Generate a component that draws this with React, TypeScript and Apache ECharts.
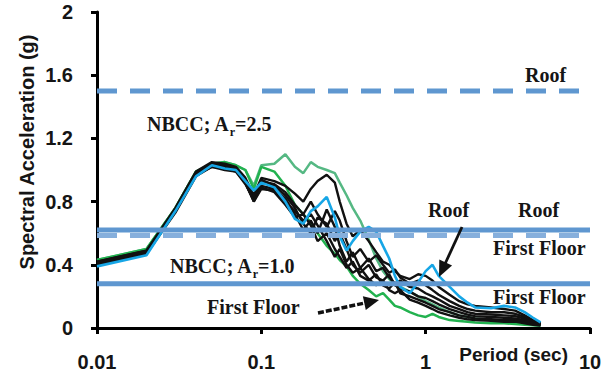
import React, { useEffect, useRef } from "react";
import * as echarts from "echarts";

// Periods (sec) shared by all spectra
const periods = [0.01, 0.02, 0.03, 0.04, 0.05, 0.06, 0.07, 0.08, 0.09, 0.1, 0.12, 0.14, 0.16, 0.18, 0.2, 0.22, 0.25, 0.28, 0.3, 0.33, 0.36, 0.4, 0.45, 0.5, 0.55, 0.6, 0.65, 0.7, 0.8, 0.9, 1.0, 1.1, 1.2, 1.4, 1.6, 1.8, 2.0, 2.5, 3.0, 3.5, 4.0, 4.5, 5.0];

const blueSpectrum = [0.39, 0.46, 0.74, 0.96, 1.03, 1.01, 1.0, 0.93, 0.87, 0.92, 0.89, 0.8, 0.69, 0.66, 0.74, 0.77, 0.83, 0.7, 0.58, 0.49, 0.55, 0.61, 0.64, 0.61, 0.52, 0.44, 0.33, 0.26, 0.22, 0.29, 0.36, 0.4, 0.33, 0.26, 0.2, 0.16, 0.13, 0.125, 0.14, 0.13, 0.1, 0.065, 0.035];

const black1 = [0.42, 0.49, 0.76, 0.99, 1.05, 1.04, 1.02, 0.95, 0.84, 0.95, 0.93, 0.9, 0.85, 0.8, 0.88, 0.93, 0.97, 0.92, 0.8, 0.66, 0.58, 0.62, 0.55, 0.48, 0.42, 0.4, 0.36, 0.33, 0.31, 0.34, 0.33, 0.3, 0.26, 0.21, 0.17, 0.15, 0.14, 0.13, 0.12, 0.11, 0.08, 0.05, 0.03];
const black2 = [0.41, 0.48, 0.75, 0.98, 1.04, 1.02, 1.01, 0.94, 0.82, 0.93, 0.91, 0.86, 0.78, 0.72, 0.8, 0.72, 0.64, 0.74, 0.68, 0.55, 0.45, 0.5, 0.42, 0.46, 0.4, 0.35, 0.37, 0.32, 0.28, 0.3, 0.27, 0.24, 0.21, 0.17, 0.14, 0.12, 0.11, 0.1, 0.1, 0.09, 0.07, 0.045, 0.03];
const black3 = [0.4, 0.47, 0.74, 0.97, 1.03, 1.01, 1.0, 0.92, 0.8, 0.9, 0.88, 0.82, 0.72, 0.62, 0.68, 0.6, 0.75, 0.64, 0.52, 0.42, 0.48, 0.38, 0.44, 0.36, 0.38, 0.32, 0.28, 0.3, 0.26, 0.25, 0.22, 0.2, 0.18, 0.14, 0.12, 0.1, 0.09, 0.085, 0.08, 0.075, 0.06, 0.04, 0.025];
const black4 = [0.42, 0.49, 0.75, 0.98, 1.04, 1.03, 1.01, 0.93, 0.83, 0.94, 0.9, 0.84, 0.76, 0.66, 0.6, 0.7, 0.66, 0.55, 0.6, 0.5, 0.4, 0.35, 0.4, 0.32, 0.3, 0.34, 0.27, 0.25, 0.23, 0.2, 0.19, 0.17, 0.15, 0.12, 0.1, 0.085, 0.075, 0.07, 0.065, 0.06, 0.05, 0.035, 0.02];
const black5 = [0.41, 0.48, 0.74, 0.97, 1.02, 1.01, 0.99, 0.91, 0.81, 0.89, 0.86, 0.78, 0.7, 0.72, 0.65, 0.55, 0.6, 0.5, 0.45, 0.38, 0.42, 0.33, 0.3, 0.34, 0.27, 0.25, 0.29, 0.22, 0.2, 0.18, 0.16, 0.14, 0.12, 0.1, 0.08, 0.07, 0.06, 0.055, 0.05, 0.05, 0.04, 0.03, 0.02];
const black6 = [0.4, 0.47, 0.73, 0.96, 1.02, 1.0, 0.99, 0.92, 0.8, 0.88, 0.87, 0.8, 0.74, 0.68, 0.72, 0.65, 0.55, 0.45, 0.5, 0.4, 0.35, 0.38, 0.31, 0.27, 0.3, 0.24, 0.22, 0.24, 0.18, 0.16, 0.14, 0.12, 0.1, 0.08, 0.065, 0.055, 0.05, 0.045, 0.04, 0.04, 0.03, 0.02, 0.015];

const greenRoof = [0.43, 0.5, 0.76, 0.99, 1.04, 1.05, 1.03, 1.0, 0.9, 1.03, 1.04, 1.1, 1.02, 0.98, 1.05, 1.02, 1.0, 0.98, 0.92, 0.84, 0.76, 0.68, 0.56, 0.44, 0.36, 0.31, 0.28, 0.26, 0.23, 0.2, 0.17, 0.15, 0.13, 0.1, 0.08, 0.07, 0.06, 0.05, 0.045, 0.04, 0.03, 0.025, 0.02];
const greenFloor = [0.43, 0.5, 0.76, 0.99, 1.04, 1.05, 1.03, 1.0, 0.88, 1.02, 0.99, 0.9, 0.78, 0.72, 0.67, 0.6, 0.52, 0.47, 0.43, 0.39, 0.33, 0.28, 0.24, 0.2, 0.22, 0.18, 0.14, 0.13, 0.1, 0.08, 0.07, 0.09, 0.07, 0.05, 0.045, 0.04, 0.035, 0.03, 0.03, 0.025, 0.02, 0.018, 0.015];

// NBCC design levels (g)
const nbccRoof25 = 1.5;
const nbccFloor25 = 0.585;
const nbccRoof10 = 0.62;
const nbccFloor10 = 0.28;

const xRange = [0.01, 10];
const xTickLabels = ["0.01", "0.1", "1", "10"];
const yTickLabels = ["0", "0.4", "0.8", "1.2", "1.6", "2"];

const SANS = '"Liberation Sans", Arial, sans-serif';
const SERIF = '"Liberation Serif", "Times New Roman", serif';
const TXT = "#151515";

function arrow(x1: number, y1: number, x2: number, y2: number, headLen: number, headHalf: number, dash: number[] | null, width: number) {
  const dx = x2 - x1;
  const dy = y2 - y1;
  const L = Math.hypot(dx, dy);
  const ux = dx / L;
  const uy = dy / L;
  const bx = x2 - ux * headLen;
  const by = y2 - uy * headLen;
  const nx = -uy;
  const ny = ux;
  const lineStyle: any = { stroke: "#111", lineWidth: width };
  if (dash) lineStyle.lineDash = dash;
  return [
    {
      type: "line",
      shape: { x1, y1, x2: bx + ux * 2, y2: by + uy * 2 },
      style: lineStyle,
      z: 100,
    },
    {
      type: "polygon",
      shape: {
        points: [
          [x2, y2],
          [bx + nx * headHalf, by + ny * headHalf],
          [bx - nx * headHalf, by - ny * headHalf],
        ],
      },
      style: { fill: "#111" },
      z: 100,
    },
  ];
}

function label(text: string, x: number, y: number) {
  return {
    type: "text",
    x,
    y,
    z: 100,
    style: {
      text,
      font: `bold 20px ${SERIF}`,
      fill: TXT,
      align: "left",
      verticalAlign: "middle",
    },
  };
}

function nbccLabel(value: string, x: number, y: number) {
  return {
    type: "text",
    x,
    y,
    z: 100,
    style: {
      text: `{m|NBCC; A}{s|r}{m|=${value}}`,
      fill: TXT,
      align: "left",
      verticalAlign: "middle",
      rich: {
        m: { fontFamily: SERIF, fontWeight: "bold", fontSize: 20, lineHeight: 24, verticalAlign: "top", fill: TXT },
        s: { fontFamily: SERIF, fontWeight: "bold", fontSize: 12, lineHeight: 24, verticalAlign: "bottom", fill: TXT },
      },
    },
  };
}

export default function App() {
  const divRef = useRef<HTMLDivElement>(null);

  useEffect(() => {
    if (!divRef.current) return;
    const chart = echarts.init(divRef.current, null, { renderer: "svg" });

    const toData = (vals: number[]) => periods.map((p, i) => [p, vals[i]]);
    const hLine = (v: number) => xRange.map((x) => [x, v]);

    const curve = (name: string, vals: number[], color: string, width: number, z: number) => ({
      name,
      type: "line",
      data: toData(vals),
      symbol: "none",
      smooth: false,
      lineStyle: { color, width },
      z,
      silent: true,
    });

    const refLine = (name: string, v: number, color: string, dashed: boolean) => ({
      name,
      type: "line",
      data: hLine(v),
      symbol: "none",
      lineStyle: { color, width: 5, type: dashed ? [20, 13] : "solid", cap: "butt" },
      z: 20,
      silent: true,
    });

    const option: any = {
      animation: false,
      backgroundColor: "#ffffff",
      grid: { left: 97, right: 15, top: 12, bottom: 53, containLabel: false, outerBoundsMode: "none" },
      xAxis: {
        type: "log",
        logBase: 10,
        min: xRange[0],
        max: xRange[1],
        axisLine: { show: true, onZero: false, lineStyle: { color: "#000", width: 3 } },
        axisTick: { show: true, inside: false, length: 6, lineStyle: { color: "#000", width: 3 } },
        minorTick: { show: false },
        splitLine: { show: false },
        axisLabel: {
          margin: 24,
          showMinLabel: true,
          showMaxLabel: true,
          color: TXT,
          fontFamily: SANS,
          fontWeight: "bold",
          fontSize: 20,
          formatter: (v: number) => {
            const idx = Math.round(Math.log10(v) + 2);
            return xTickLabels[idx] ?? String(v);
          },
        },
      },
      yAxis: {
        type: "value",
        min: 0,
        max: 2,
        interval: 0.4,
        axisLine: { show: true, lineStyle: { color: "#000", width: 3 } },
        axisTick: { show: true, inside: false, length: 6, lineStyle: { color: "#000", width: 3 } },
        splitLine: { show: false },
        axisLabel: {
          margin: 24,
          color: TXT,
          fontFamily: SANS,
          fontWeight: "bold",
          fontSize: 20,
          formatter: (v: number) => yTickLabels[Math.round(v / 0.4)] ?? String(v),
        },
      },
      series: [
        curve("Green roof", greenRoof, "#55b883", 2.5, 2),
        curve("Green first floor", greenFloor, "#22b24f", 2.5, 2),
        curve("Black 1", black1, "#111111", 2.4, 3),
        curve("Black 2", black2, "#111111", 2.4, 3),
        curve("Black 3", black3, "#111111", 2.4, 3),
        curve("Black 4", black4, "#111111", 2.4, 3),
        curve("Black 5", black5, "#111111", 2.4, 3),
        curve("Black 6", black6, "#111111", 2.4, 3),
        curve("Blue", blueSpectrum, "#17a6e6", 2.6, 4),
        refLine("NBCC Ar=2.5 Roof", nbccRoof25, "#5f97d0", true),
        refLine("NBCC Ar=2.5 First Floor", nbccFloor25, "#86afdc", true),
        refLine("NBCC Ar=1.0 Roof", nbccRoof10, "#5f97d0", false),
        refLine("NBCC Ar=1.0 First Floor", nbccFloor10, "#5f97d0", false),
      ],
      graphic: [
        {
          type: "text",
          x: 27,
          y: 152,
          rotation: Math.PI / 2,
          z: 100,
          style: {
            text: "Spectral Acceleration (g)",
            font: `bold 20px ${SANS}`,
            fill: TXT,
            align: "center",
            verticalAlign: "middle",
          },
        },
        {
          type: "text",
          x: 568,
          y: 354,
          z: 100,
          style: {
            text: "Period (sec)",
            font: `bold 19px ${SANS}`,
            fill: TXT,
            align: "right",
            verticalAlign: "middle",
          },
        },
        label("Roof", 525, 75),
        nbccLabel("2.5", 147, 126),
        nbccLabel("1.0", 170, 268),
        label("First Floor", 207, 307),
        label("Roof", 428, 210),
        label("Roof", 518, 210),
        label("First Floor", 493, 248),
        label("First Floor", 493, 297),
        ...arrow(318, 313, 379, 300, 15, 7, [6, 2], 3.5),
        ...arrow(462, 227, 439, 277, 16, 7, null, 2.8),
      ],
    };

    chart.setOption(option);
    return () => chart.dispose();
  }, []);

  return <div ref={divRef} style={{ position: "absolute", left: 0, top: 0, width: 605, height: 381 }} />;
}
